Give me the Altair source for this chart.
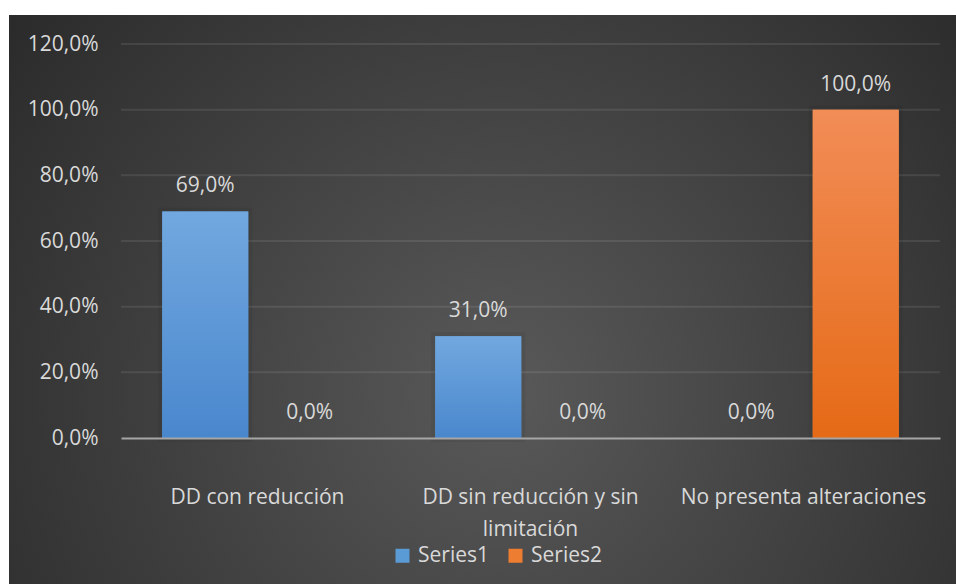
import altair as alt
import pandas as pd

# Chart values
categories = ["DD con reducción", "DD sin reducción y sin limitación", "No presenta alteraciones"]
series_names = ["Series1", "Series2"]
series1 = [0.69, 0.31, 0.0]
series2 = [0.0, 0.0, 1.0]
y_ticks = [0.0, 0.2, 0.4, 0.6, 0.8, 1.0, 1.2]

rows = []
for cat, a, b in zip(categories, series1, series2):
    rows.append({"cat": cat, "serie": "Series1", "v": a})
    rows.append({"cat": cat, "serie": "Series2", "v": b})
df = pd.DataFrame(rows)
grid_df = pd.DataFrame({"v": y_ticks[1:]})

FONT = "Open Sans"
FS = 21
TEXT = "#D9D9D9"
W, H = 819, 394

x_enc = alt.X(
    "cat:N",
    sort=categories,
    scale=alt.Scale(paddingInner=0, paddingOuter=0),
    axis=alt.Axis(
        title=None,
        labelAngle=0,
        labelExpr="datum.value == 'DD sin reducción y sin limitación' ? ['DD sin reducción y sin', 'limitación'] : datum.value",
        labelPadding=48,
        labelLineHeight=32,
        labelBaseline="top",
        labelLimit=400,
        domainColor="#A6A6A6",
        domainWidth=2,
        ticks=False,
        grid=False,
        zindex=1,
    ),
)
xoff_enc = alt.XOffset(
    "serie:N",
    scale=alt.Scale(domain=series_names, paddingInner=0.177, paddingOuter=0.395),
)
y_scale = alt.Scale(domain=[0, 1.2], nice=False)
y_axis = alt.Axis(
    title=None,
    values=y_ticks,
    labelExpr="replace(format(datum.value, '.1%'), '.', ',')",
    labelPadding=23,
    domain=False,
    ticks=False,
    grid=False,
    zindex=1,
)
y_enc = alt.Y("v:Q", scale=y_scale, axis=y_axis)

# Dark panel with a soft radial light in the middle
panel = alt.Chart(alt.Data(values=[{}])).mark_rect(
    fill={
        "gradient": "radial",
        "x1": 0.52, "y1": 0.6, "r1": 0,
        "x2": 0.52, "y2": 0.6, "r2": 0.72,
        "stops": [
            {"offset": 0, "color": "#595959"},
            {"offset": 1, "color": "#262626"},
        ],
    }
).encode(
    x=alt.value(-112), x2=alt.value(835),
    y=alt.value(-29), y2=alt.value(540),
)

# Horizontal gridlines, drawn under the bars
grid = alt.Chart(grid_df).mark_rule(
    color="#FFFFFF", opacity=0.09, strokeWidth=2
).encode(
    y=y_enc,
    x=alt.value(0),
    x2=alt.value(W),
)

base = alt.Chart(df)

# Faint dark halo behind the non-zero bars
shadow = base.transform_filter(alt.datum.v > 0).mark_bar(
    fill="#000000", fillOpacity=0, stroke="#000000", strokeOpacity=0.06, strokeWidth=8
).encode(x=x_enc, xOffset=xoff_enc, y=y_enc)

# Solid bars carry the legend
legend_bars = base.mark_bar().encode(
    x=x_enc,
    xOffset=xoff_enc,
    y=y_enc,
    color=alt.Color(
        "serie:N",
        scale=alt.Scale(domain=series_names, range=["#5B9BD5", "#ED7D31"]),
        legend=alt.Legend(
            title=None,
            orient="none",
            direction="horizontal",
            legendX=271,
            legendY=501,
            symbolType="square",
            symbolSize=196,
            symbolStrokeWidth=0,
            labelFont=FONT,
            labelFontSize=FS,
            labelColor=TEXT,
            labelOffset=5,
            columnPadding=16,
        ),
    ),
)


def gradient_bars(name, top, bottom):
    return base.transform_filter(alt.datum.serie == name).mark_bar(
        fill={
            "gradient": "linear",
            "x1": 0, "y1": 0, "x2": 0, "y2": 1,
            "stops": [
                {"offset": 0, "color": top},
                {"offset": 1, "color": bottom},
            ],
        }
    ).encode(x=x_enc, xOffset=xoff_enc, y=y_enc)


bars1 = gradient_bars("Series1", "#72A8DF", "#4987CD")
bars2 = gradient_bars("Series2", "#F28D57", "#E56A16")

labels = base.transform_calculate(
    lbl="replace(format(datum.v, '.1%'), '.', ',')"
).mark_text(
    font=FONT, fontSize=FS, color=TEXT, baseline="middle", dy=-25
).encode(x=x_enc, xOffset=xoff_enc, y=y_enc, text="lbl:N")

chart = alt.layer(panel, grid, shadow, legend_bars, bars1, bars2, labels).properties(
    width=W,
    height=H,
    autosize=alt.AutoSizeParams(type="none"),
    padding={"left": 121, "top": 44, "right": 16, "bottom": 146},
    background="#FFFFFF",
).configure_view(stroke=None).configure_axis(
    labelFont=FONT, labelFontSize=FS, labelColor=TEXT
)

chart.save("out.html", embed_options={"renderer": "svg", "actions": False})
